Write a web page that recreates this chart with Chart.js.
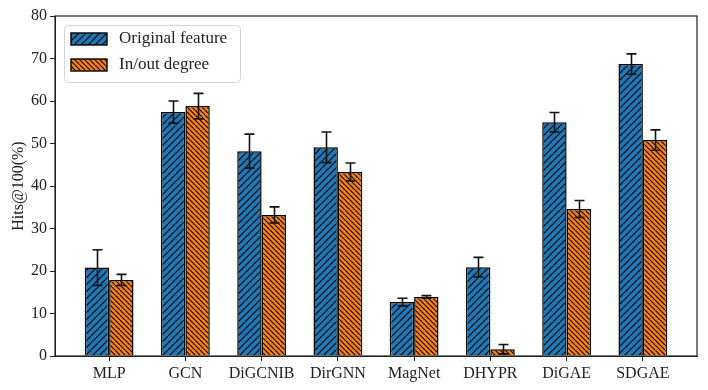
<!DOCTYPE html>
<html><head><meta charset="utf-8">
<script src="https://cdn.jsdelivr.net/npm/chart.js@4"></script>
<style>html,body{margin:0;padding:0;background:#fff}#wrap{width:708px;height:390px}</style>
</head><body><div id="wrap"><canvas id="c"></canvas></div>
<script>
const categories = ["MLP","GCN","DiGCNIB","DirGNN","MagNet","DHYPR","DiGAE","SDGAE"];
const seriesNames = ["Original feature","In/out degree"];
const originalValues = [20.8, 57.4, 48.2, 49.1, 12.7, 20.9, 55.0, 68.7];
const originalErrors = [4.2, 2.6, 4.0, 3.6, 0.9, 2.3, 2.3, 2.4];
const degreeValues = [17.9, 58.8, 33.2, 43.3, 13.9, 1.6, 34.6, 50.8];
const degreeErrors = [1.3, 3.0, 1.9, 2.1, 0.3, 1.1, 2.0, 2.4];
const yTicks = [0,10,20,30,40,50,60,70,80];

const FONT = "'Liberation Serif', 'DejaVu Serif', serif";

function hatch(bg, spacing, dir){
  const c = document.createElement('canvas');
  c.width = spacing; c.height = spacing;
  const g = c.getContext('2d');
  g.fillStyle = bg; g.fillRect(0,0,spacing,spacing);
  g.strokeStyle = '#000'; g.lineWidth = 1.1;
  g.beginPath();
  if (dir > 0) {
    for (let k=-1;k<=1;k++){ g.moveTo(k*spacing, spacing); g.lineTo(k*spacing+spacing, 0); }
  } else {
    for (let k=-1;k<=1;k++){ g.moveTo(k*spacing, 0); g.lineTo(k*spacing+spacing, spacing); }
  }
  g.stroke();
  return document.getElementById('c').getContext('2d').createPattern(c,'repeat');
}
const blueHatch = hatch('#1f77b4', 7, 1);
const orangeHatch = hatch('#ff7f0e', 5, -1);

const toPts = arr => arr.map((v,i)=>({x:i,y:v}));

const errorBars = {
  id:'errorBars',
  afterDatasetsDraw(chart){
    const ctx = chart.ctx, ys = chart.scales.y;
    const errs = [originalErrors, degreeErrors];
    ctx.save(); ctx.strokeStyle = '#111'; ctx.lineWidth = 1.6;
    chart.data.datasets.forEach((ds,di)=>{
      const meta = chart.getDatasetMeta(di);
      meta.data.forEach((bar,i)=>{
        const v = ds.data[i].y, e = errs[di][i];
        const x = Math.round(bar.x)+0.5;
        const y1 = ys.getPixelForValue(v+e), y2 = ys.getPixelForValue(Math.max(0,v-e));
        ctx.beginPath();
        ctx.moveTo(x,y1); ctx.lineTo(x,y2);
        ctx.moveTo(x-5,y1); ctx.lineTo(x+5,y1);
        ctx.moveTo(x-5,y2); ctx.lineTo(x+5,y2);
        ctx.stroke();
      });
    });
    ctx.restore();
  },
  afterDraw(chart){
    const ctx = chart.ctx, a = chart.chartArea;
    ctx.save();
    ctx.strokeStyle = '#222'; ctx.lineWidth = 1.2;
    ctx.strokeRect(a.left, a.top, a.right-a.left, a.bottom-a.top);
    // legend
    const lx = a.left+9, ly = a.top+9, lw = 176, lh = 57;
    ctx.fillStyle = 'rgba(255,255,255,0.85)';
    ctx.strokeStyle = '#d6d6d6'; ctx.lineWidth = 1;
    ctx.beginPath(); ctx.roundRect(lx+0.5, ly+0.5, lw, lh, 4); ctx.fill(); ctx.stroke();
    const fills = [blueHatch, orangeHatch];
    chart.data.datasets.forEach((ds,i)=>{
      const sy = ly + 8 + i*26;
      ctx.fillStyle = fills[i];
      ctx.fillRect(lx+7, sy, 36, 12);
      ctx.strokeStyle = '#000'; ctx.lineWidth = 1.4;
      ctx.strokeRect(lx+7, sy, 36, 12);
      ctx.fillStyle = '#222'; ctx.font = '17px ' + FONT;
      ctx.textBaseline = 'middle'; ctx.textAlign = 'left';
      ctx.fillText(ds.label, lx+55, sy+6);
    });
    ctx.restore();
  }
};

new Chart(document.getElementById('c'), {
  type:'bar',
  data:{
    datasets:[
      {label:seriesNames[0], data:toPts(originalValues), backgroundColor:blueHatch, borderColor:'#000', borderWidth:1.5},
      {label:seriesNames[1], data:toPts(degreeValues), backgroundColor:orangeHatch, borderColor:'#000', borderWidth:1.5}
    ]
  },
  options:{
    responsive:true, maintainAspectRatio:false, animation:false,
    layout:{padding:{top:16,right:11,left:9,bottom:0}},
    categoryPercentage:0.64, barPercentage:1.0,
    plugins:{legend:{display:false}, tooltip:{enabled:false}},
    scales:{
      x:{type:'linear', min:-0.71, max:7.71, offset:false,
        afterBuildTicks(s){ s.ticks = categories.map((_,i)=>({value:i})); },
        afterFit(s){ s.height = 34; },
        grid:{display:true, offset:false, drawOnChartArea:false, tickLength:5, color:'#222'},
        border:{display:true, color:'#222'},
        ticks:{autoSkip:false, maxRotation:0, padding:3, color:'#222', font:{family:FONT, size:16},
          callback:(v)=>categories[v]}
      },
      y:{min:0, max:80,
        afterBuildTicks(s){ s.ticks = yTicks.map(v=>({value:v})); },
        afterFit(s){ s.width = 46; },
        grid:{display:true, drawOnChartArea:false, tickLength:5, color:'#222'},
        border:{display:true, color:'#222'},
        title:{display:true, text:'Hits@100(%)', color:'#222', font:{family:FONT, size:16}, padding:{top:0,bottom:0}},
        ticks:{padding:3, color:'#222', font:{family:FONT, size:16}}
      }
    }
  },
  plugins:[errorBars]
});
</script></body></html>
